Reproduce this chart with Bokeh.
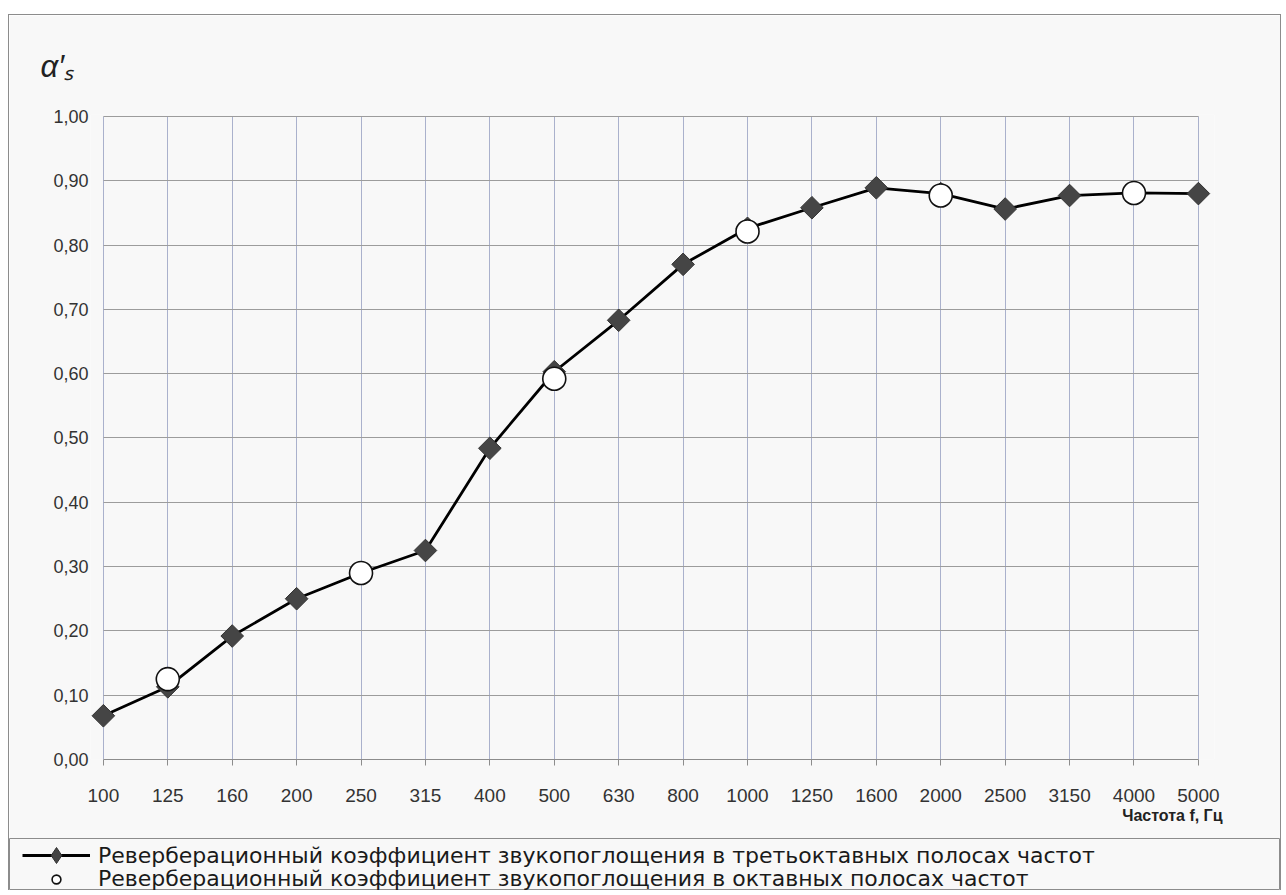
from bokeh.plotting import figure
from bokeh.layouts import column
from bokeh.models import (Range1d, FixedTicker, CustomJSTickFormatter, Title,
                          Legend, LegendItem, ColumnDataSource)
from bokeh.embed import file_html
from bokeh.resources import INLINE
import math

# ---- data ----
freq_labels = ["100", "125", "160", "200", "250", "315", "400", "500", "630",
               "800", "1000", "1250", "1600", "2000", "2500", "3150", "4000", "5000"]
third_octave = [0.068, 0.113, 0.192, 0.250, 0.290, 0.325, 0.484, 0.603, 0.683,
                0.770, 0.826, 0.858, 0.889, 0.880, 0.856, 0.877, 0.881, 0.880]
octave_labels = ["125", "250", "500", "1000", "2000", "4000"]
octave_values = [0.125, 0.290, 0.592, 0.821, 0.877, 0.881]
y_tick_values = [0.0, 0.1, 0.2, 0.3, 0.4, 0.5, 0.6, 0.7, 0.8, 0.9, 1.0]

legend_third = "Реверберационный коэффициент звукопоглощения в третьоктавных полосах частот"
legend_oct = "Реверберационный коэффициент звукопоглощения в октавных полосах частот"
x_title = "Частота f, Гц"
y_title = "α′ₛ"

idx = list(range(len(freq_labels)))
oct_idx = [freq_labels.index(f) for f in octave_labels]

BG = "#f8f8f8"
FONT = "Liberation Sans"
FRAME = "#8c8c8c"
W = 1271

p = figure(width=W, height=823, output_backend="svg", toolbar_location=None,
           x_range=Range1d(-0.2, 17.25), y_range=Range1d(0, 1.003),
           min_border_left=81, min_border_right=66, min_border_top=96, min_border_bottom=79,
           background_fill_color=BG, border_fill_color=BG)
p.outline_line_color = None

# y "title" (alpha'_s) at top-left
p.title.text = y_title
p.title.align = "left"
p.title.offset = -50
p.title.standoff = 62
p.title.text_font = FONT
p.title.text_font_style = "italic"
p.title.text_font_size = "31px"
p.title.text_color = "#222222"

# axes
p.xaxis.ticker = FixedTicker(ticks=idx)
p.xaxis.formatter = CustomJSTickFormatter(args=dict(labels=freq_labels),
                                          code="return labels[Math.round(tick)] || '';")
p.xaxis.bounds = (0, len(freq_labels) - 1)
p.xaxis.axis_line_color = FRAME
p.xaxis.major_tick_line_color = FRAME
p.xaxis.major_tick_out = 6
p.xaxis.major_tick_in = 0
p.xaxis.minor_tick_line_color = None
p.xaxis.major_label_standoff = 23
p.xaxis.major_label_text_font = FONT
p.xaxis.major_label_text_font_size = "19px"
p.xaxis.major_label_text_color = "#333333"

p.yaxis.ticker = FixedTicker(ticks=y_tick_values)
p.yaxis.formatter = CustomJSTickFormatter(code="return tick.toFixed(2).replace('.', ',');")
p.yaxis.axis_line_color = None
p.yaxis.major_tick_line_color = None
p.yaxis.minor_tick_line_color = None
p.yaxis.major_tick_out = 0
p.yaxis.major_tick_in = 0
p.yaxis.major_label_standoff = 2
p.yaxis.major_label_text_font = FONT
p.yaxis.major_label_text_font_size = "18px"
p.yaxis.major_label_text_color = "#333333"

# x axis title, right aligned below the tick labels
p.add_layout(Title(text=x_title, align="right", offset=-8, standoff=0,
                   text_font=FONT, text_font_style="bold", text_font_size="16px",
                   text_color="#222222"), "below")

# grids
p.xgrid.ticker = FixedTicker(ticks=idx)
p.xgrid.grid_line_color = "#aab1cc"
p.xgrid.grid_line_width = 1
p.ygrid.ticker = FixedTicker(ticks=y_tick_values)
p.ygrid.grid_line_color = "#9c9c9c"
p.ygrid.grid_line_width = 1
try:
    p.ygrid.cross_bounds = (0, len(freq_labels) - 1)
    p.xgrid.cross_bounds = (0, 1.0)
except Exception:
    pass

# data
src = ColumnDataSource(dict(x=idx, y=third_octave))
osrc = ColumnDataSource(dict(x=oct_idx, y=octave_values))
LINE = dict(line_color="#000000", line_width=2.8)
DIA = dict(marker="square", angle=math.pi / 4, fill_color="#454545",
           line_color="#333333", line_width=1)
CIRC = dict(marker="circle", fill_color="white", line_color="#111111", line_width=1.6)

p.line("x", "y", source=src, **LINE)
p.scatter("x", "y", source=src, size=16, **DIA)
p.scatter("x", "y", source=osrc, size=23, **CIRC)

# ---- legend strip below the chart ----
lg = figure(width=W, height=52, output_backend="svg", toolbar_location=None,
            x_range=Range1d(0, 1), y_range=Range1d(5, 6),
            x_axis_type=None, y_axis_type=None, min_border=0,
            background_fill_color=BG, border_fill_color=BG)
lg.outline_line_color = FRAME
lg.xgrid.visible = False
lg.ygrid.visible = False
for fig in (p, lg):
    try:
        fig.frame_align = False
    except Exception:
        pass
# legend renderers use the same data, drawn outside the strip's visible range
lg_line = lg.line("x", "y", source=src, **LINE)
lg_dia = lg.scatter("x", "y", source=src, marker="diamond", fill_color="#454545",
                    line_color="#333333", line_width=1)
lg_circ = lg.scatter("x", "y", source=osrc, size=23, **CIRC)

common = dict(orientation="vertical", label_text_font="DejaVu Sans",
              label_text_font_size="22px", label_text_color="#1a1a1a",
              glyph_width=68, label_height=22, label_standoff=8,
              spacing=0, padding=0, margin=0, border_line_color=None,
              background_fill_alpha=0)
leg1 = Legend(items=[LegendItem(label=legend_third, renderers=[lg_line, lg_dia])],
              location=(13, 15), glyph_height=40, **common)
leg2 = Legend(items=[LegendItem(label=legend_oct, renderers=[lg_circ])],
              location=(13, -1), glyph_height=22, **common)
lg.add_layout(leg1)
lg.add_layout(leg2)

layout = column(p, lg, spacing=0,
                styles={"margin-left": "8px", "margin-top": "14px",
                        "border-top": "1px solid " + FRAME,
                        "border-left": "1px solid " + FRAME,
                        "border-right": "1px solid " + FRAME})

open("out.html", "w").write(file_html(layout, INLINE))
